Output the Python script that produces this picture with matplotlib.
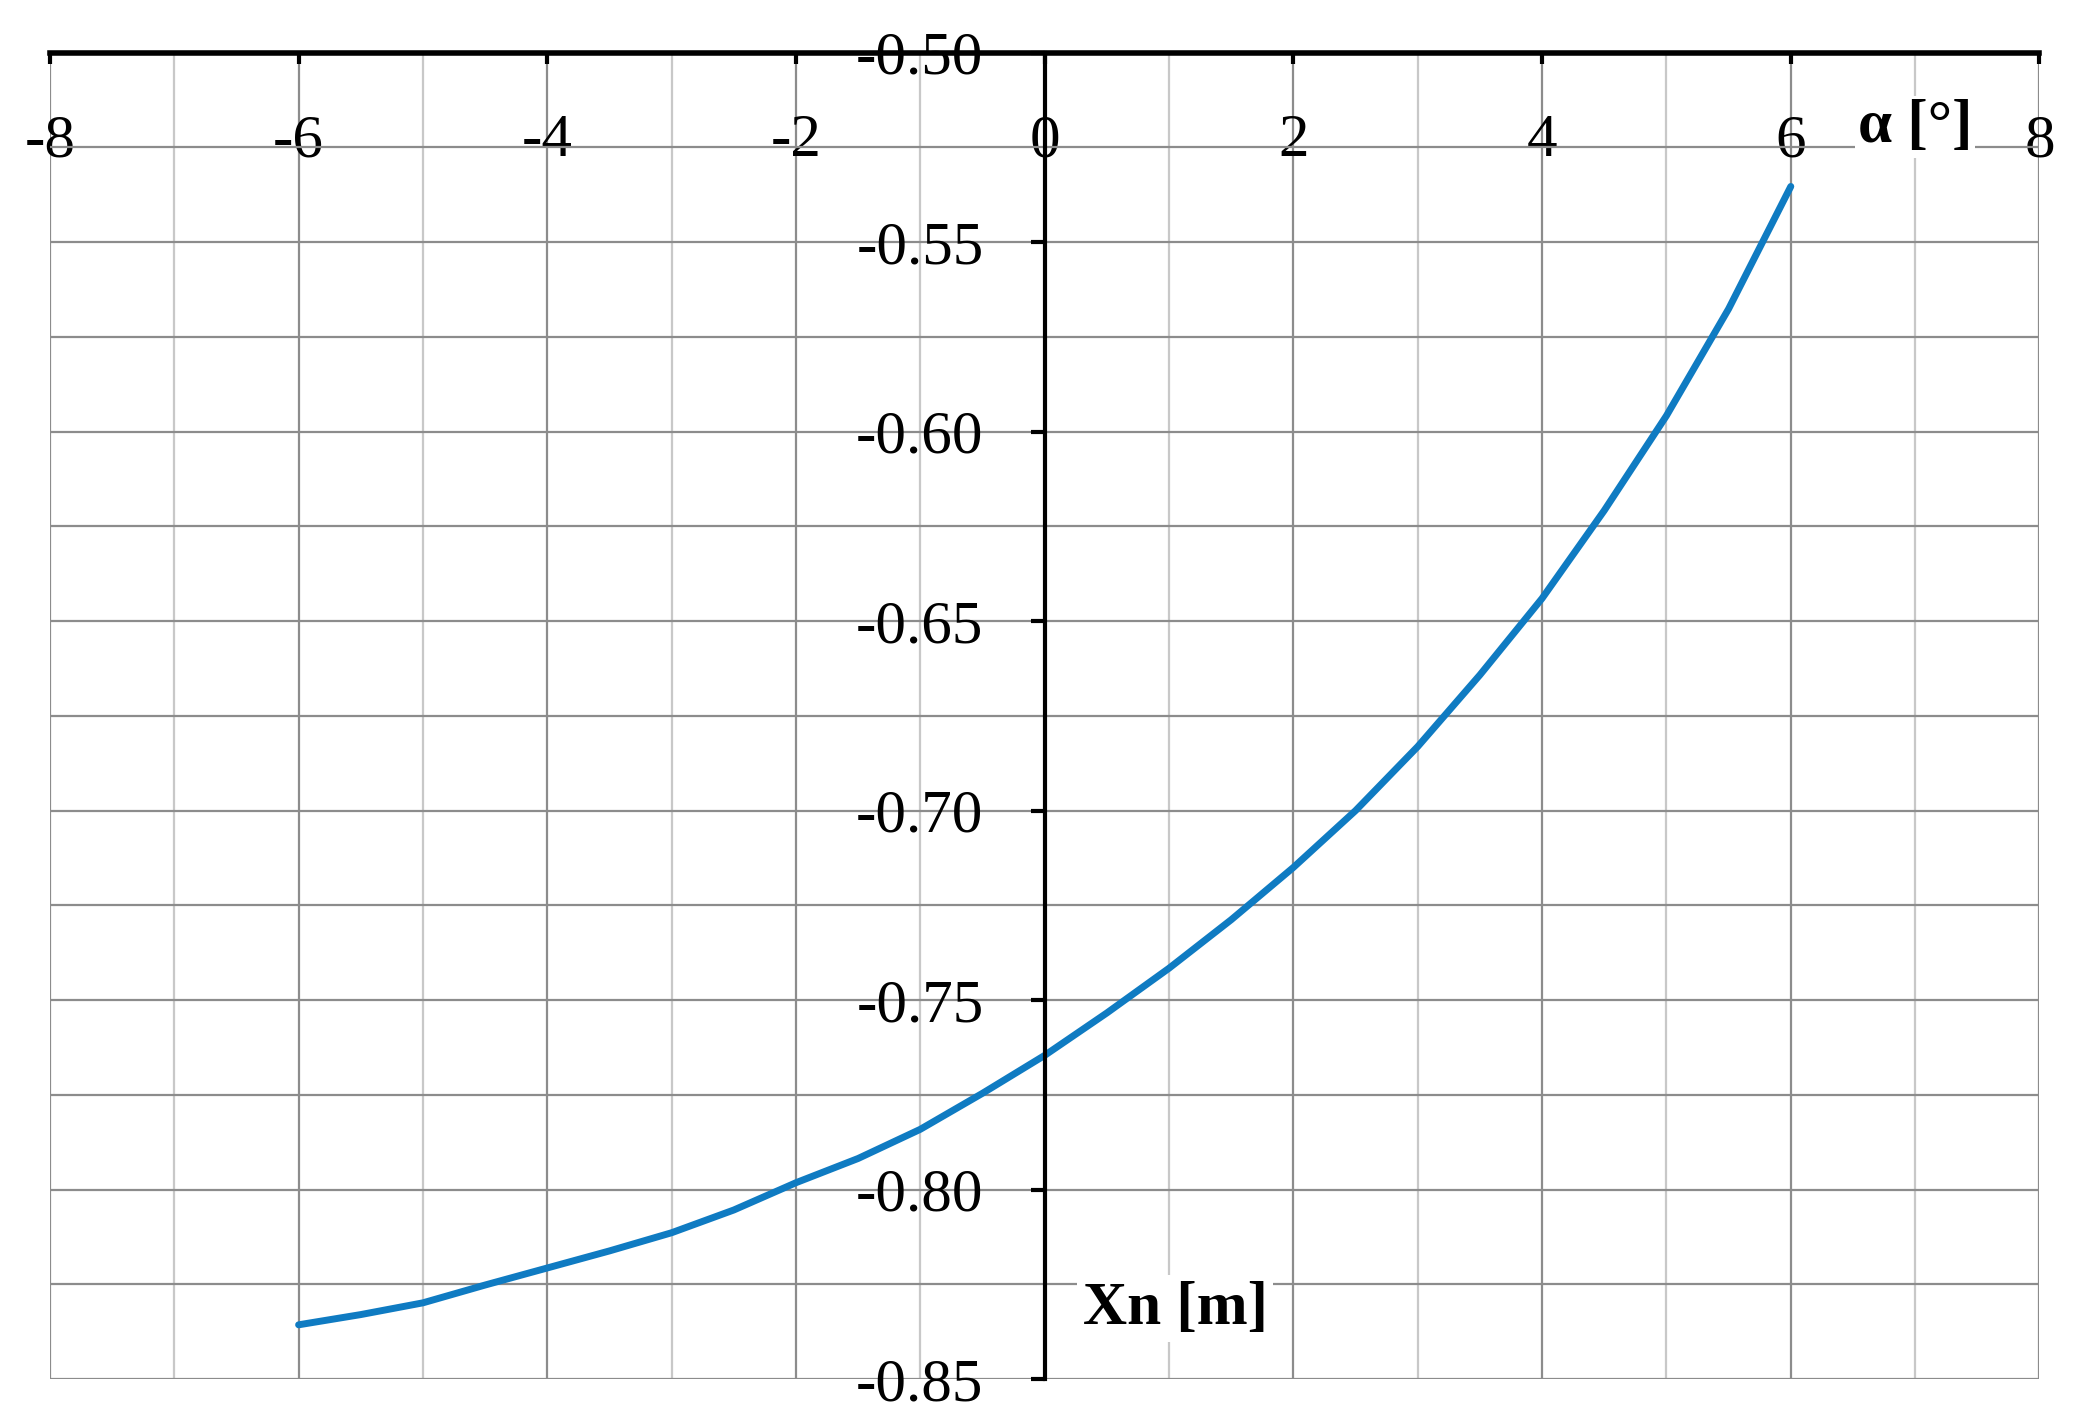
import matplotlib
matplotlib.use("Agg")
import matplotlib.pyplot as plt
from matplotlib.ticker import MultipleLocator, FormatStrFormatter

plt.rcParams['font.family'] = ['Liberation Serif', 'DejaVu Serif']
plt.rcParams['axes.unicode_minus'] = False

# angle alpha [deg] and Xn [m]
alpha = [-6, -5.5, -5, -4.5, -4, -3.5, -3, -2.5, -2, -1.5, -1, -0.5, 0,
         0.5, 1, 1.5, 2, 2.5, 3, 3.5, 4, 4.5, 5, 5.5, 6]
xn = [-0.8357, -0.8330, -0.8299, -0.8252, -0.8207, -0.8162, -0.8114,
      -0.8054, -0.7982, -0.7918, -0.7841, -0.7746, -0.7646, -0.7534,
      -0.7416, -0.7288, -0.7150, -0.7000, -0.6831, -0.6642, -0.6440,
      -0.6208, -0.5958, -0.5676, -0.5353]

fig = plt.figure(figsize=(20.79, 14.24), dpi=100)
ax = fig.add_axes([0.024, 0.0316, 0.957, 0.9314])

ax.plot(alpha, xn, color='#0f7bc2', lw=5, solid_capstyle='round',
        solid_joinstyle='round', zorder=3)

ax.set_xlim(-8, 8)
ax.set_ylim(-0.85, -0.50)

ax.xaxis.set_major_locator(MultipleLocator(2))
ax.xaxis.set_minor_locator(MultipleLocator(1))
ax.yaxis.set_major_locator(MultipleLocator(0.05))
ax.yaxis.set_minor_locator(MultipleLocator(0.025))
ax.yaxis.set_major_formatter(FormatStrFormatter('%.2f'))
ax.xaxis.set_major_formatter(FormatStrFormatter('%d'))

ax.grid(which='major', color='#8c8c8c', lw=1.6)
ax.grid(which='minor', axis='x', color='#c8c8c8', lw=1.6)
ax.grid(which='minor', axis='y', color='#8c8c8c', lw=1.6)
ax.set_axisbelow(True)

# axes cross: x axis along the top, y axis through zero
ax.spines['bottom'].set_position(('data', -0.50))
ax.spines['left'].set_position(('data', 0))
ax.spines['bottom'].set_linewidth(4)
ax.spines['left'].set_linewidth(3)
ax.spines['top'].set_visible(False)
ax.spines['right'].set_visible(False)
for s in ('bottom', 'left'):
    ax.spines[s].set_zorder(4)

ax.tick_params(axis='x', which='major', direction='out', length=8, width=3,
               labelsize=44, pad=36)
ax.tick_params(axis='y', which='major', direction='out', length=10, width=3,
               labelsize=44, pad=34)
ax.tick_params(which='minor', length=0)

ax.text(7.0, -0.5195, 'α [°]', fontsize=44, fontweight='bold',
        ha='center', va='center',
        bbox=dict(facecolor='white', edgecolor='none', pad=2), zorder=5)
ax.text(1.05, -0.8315, 'Xn [m]', fontsize=44, fontweight='bold',
        ha='center', va='center',
        bbox=dict(facecolor='white', edgecolor='none', pad=4), zorder=5)

fig.savefig('out.png', dpi=100, facecolor='white')
